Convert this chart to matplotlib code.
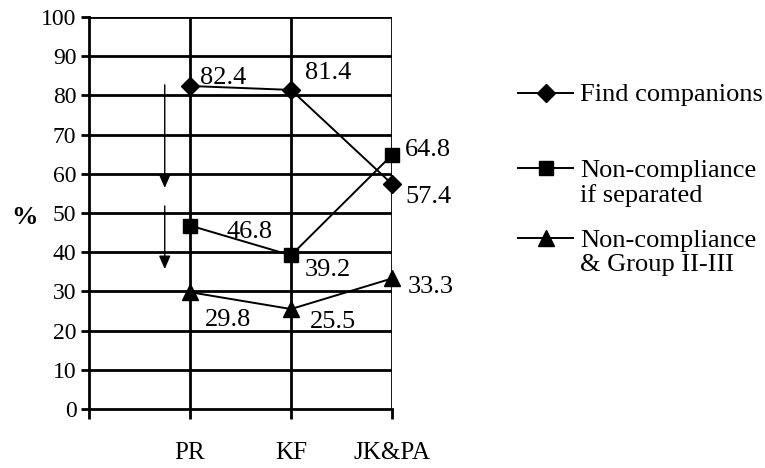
import matplotlib
matplotlib.use('Agg')
import matplotlib.pyplot as plt
from matplotlib.lines import Line2D

plt.rcParams['font.family'] = ['Liberation Serif', 'DejaVu Serif']

# data
categories = ['PR', 'KF', 'JK&PA']
find_companions = [82.4, 81.4, 57.4]
noncompliance_sep = [46.8, 39.2, 64.8]
noncompliance_grp = [29.8, 25.5, 33.3]
series_names = ['Find companions', 'Non-compliance\nif separated',
                'Non-compliance\n& Group II-III']

# label offsets in pixels relative to each marker
offsets = [
    [(10, 8), (14, 17), (13, -13)],
    [(37, -6), (14, -15), (13, 5)],
    [(15, -28), (19, -13), (16, -9)],
]
markers = ['D', 's', '^']
msizes = [9.5, 9.5, 11]

fig = plt.figure(figsize=(7.65, 4.68), dpi=100)
ax = fig.add_axes([89 / 765, 59 / 468, 303 / 765, 392 / 468])

xs = list(range(1, len(categories) + 1))
GRID_LW = 2.0
LINE_LW = 1.4

ax.set_xlim(0, len(categories))
ax.set_ylim(0, 100)
ax.set_yticks(range(0, 101, 10))
ax.set_xticks([0] + xs)
ax.set_xticklabels([''] + categories, fontsize=18)
ax.tick_params(axis='y', labelsize=17, length=6, width=GRID_LW, direction='out', pad=3)
ax.tick_params(axis='x', length=7, width=GRID_LW, direction='out', pad=17)

for y in range(10, 101, 10):
    ax.axhline(y, color='black', lw=GRID_LW, zorder=1)
for x in xs:
    ax.axvline(x, color='black', lw=GRID_LW, zorder=1)
for side in ['top', 'right']:
    ax.spines[side].set_visible(False)
for side in ['left', 'bottom']:
    ax.spines[side].set_linewidth(GRID_LW)

all_series = [find_companions, noncompliance_sep, noncompliance_grp]
for vals, mk, ms, offs in zip(all_series, markers, msizes, offsets):
    ax.plot(xs, vals, color='black', lw=LINE_LW, marker=mk, ms=ms, zorder=3, clip_on=False)
    for x, v, (dx, dy) in zip(xs, vals, offs):
        ax.annotate(f'{v:.1f}', (x, v), xytext=(dx, dy), textcoords='offset pixels',
                    ha='left', va='center', fontsize=19, zorder=2,
                    annotation_clip=False)

# the two downward arrows left of PR
ax.annotate('', xy=(0.75, 56.4), xytext=(0.75, 82.7),
            arrowprops=dict(arrowstyle='-|>,head_length=0.8,head_width=0.35',
                            color='black', lw=1.0, shrinkA=0, shrinkB=0))
ax.annotate('', xy=(0.75, 35.7), xytext=(0.75, 51.8),
            arrowprops=dict(arrowstyle='-|>,head_length=0.8,head_width=0.35',
                            color='black', lw=1.0, shrinkA=0, shrinkB=0))

fig.text(24 / 765, 1 - 217 / 468, '%', fontsize=19, fontweight='bold',
         ha='center', va='center')

# legend drawn by hand so the handle sits on the first text line
leg_y = [93, 168, 238]
for name, mk, ms, y in zip(series_names, markers, msizes, leg_y):
    yf = 1 - y / 468
    fig.add_artist(Line2D([518 / 765, 573 / 765], [yf, yf], color='black', lw=LINE_LW,
                          transform=fig.transFigure))
    fig.add_artist(Line2D([545.5 / 765], [yf], color='black', marker=mk, ms=ms,
                          transform=fig.transFigure))
    first_line = name.split('\n')[0]
    rest = name.split('\n')[1:]
    fig.text(580 / 765, yf, first_line, fontsize=19, ha='left', va='center_baseline',
             transform=fig.transFigure)
    for i, line in enumerate(rest, start=1):
        fig.text(580 / 765, yf - i * 25 / 468, line, fontsize=19, ha='left',
                 va='center_baseline', transform=fig.transFigure)

fig.savefig('out.png', dpi=100)
